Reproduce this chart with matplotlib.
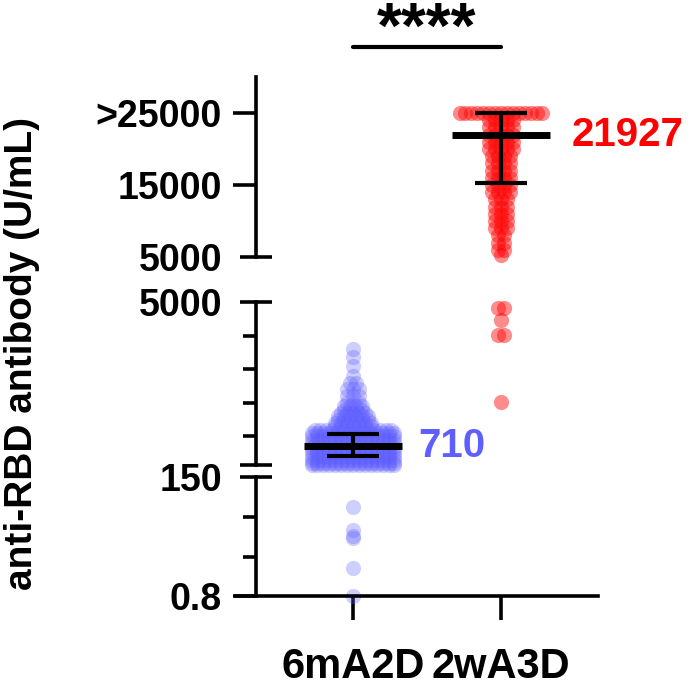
import numpy as np
import matplotlib.pyplot as plt

plt.rcParams['font.family'] = ['Liberation Sans', 'DejaVu Sans']
plt.rcParams['font.weight'] = 'bold'

# data
groups = ['6mA2D', '2wA3D']

blue_vals = [1, 36, 74, 76, 84, 112,
             150, 200, 300, 400, 500, 600, 700, 800, 900, 1000, 1100, 1200,
             1300, 1400, 1500, 1600, 1700, 1800, 1900, 2000, 2200, 2400,
             2600, 2800, 3100, 3350, 3600]
blue_counts = [1, 1, 1, 1, 1, 1,
               15, 15, 15, 15, 15, 15, 15, 15, 15, 15, 15, 14,
               7, 7, 6, 6, 5, 4, 4, 3, 3, 3,
               2, 1, 1, 1, 1]

red_vals = [2030, 4020, 4460, 4820,
            5300, 6000, 7000, 8000, 9000, 10000, 11000, 12000, 13000,
            14000, 15000, 16000, 17000, 18000, 19000, 20000, 21000, 22000,
            23000, 24000, 25000]
red_counts = [1, 2, 1, 2,
              1, 2, 2, 2, 3, 3, 3, 3, 3,
              4, 4, 4, 4, 4, 4, 5, 5, 5,
              5, 5, 15]

means = [710, 21927]
err_low = [420, 15280]
err_high = [1070, 25000]
mean_labels = ['710', '21927']
colors = ['#5F5FFF', '#FF0000']
alphas = [0.3, 0.45]

W, H = 693, 689
fig = plt.figure(figsize=(W / 100, H / 100), dpi=100)


def px_axes(y_top, y_bot):
    return fig.add_axes([236 / W, 1 - y_bot / H, 362 / W, (y_bot - y_top) / H])


ax_top = px_axes(77, 257)
ax_mid = px_axes(302, 465)
ax_low = px_axes(477, 596)
ax_top.set_ylim(5000, 30000)
ax_mid.set_ylim(150, 5000)
ax_low.set_ylim(0.8, 150)

xmin, xmax = -0.7905, 1.6554
spine_x = -0.6554
lw = 2.6

for ax in (ax_top, ax_mid, ax_low):
    ax.set_xlim(xmin, xmax)
    ax.patch.set_alpha(0)
    for s in ('top', 'right'):
        ax.spines[s].set_visible(False)
    ax.spines['left'].set_position(('data', spine_x))
    ax.spines['left'].set_linewidth(lw)
    ax.tick_params(axis='y', which='major', length=16.5, width=lw, pad=8,
                   labelsize=27)
    ax.tick_params(axis='y', which='minor', length=9.4, width=lw)
    if ax is not ax_low:
        ax.spines['bottom'].set_visible(False)
        ax.set_xticks([])


def pick_ax(v):
    if v >= 5000:
        return ax_top
    if v >= 150:
        return ax_mid
    return ax_low


# swarm points
dx = 0.04
for i, (vals, counts) in enumerate([(blue_vals, blue_counts), (red_vals, red_counts)]):
    for v, n in zip(vals, counts):
        xs = i + (np.arange(n) - (n - 1) / 2) * dx
        pick_ax(v).scatter(xs, [v] * n, s=120, color=colors[i], alpha=alphas[i],
                           linewidths=0, clip_on=False, zorder=2)

# mean and error bars
for i in range(2):
    ax = pick_ax(means[i])
    ax.hlines(means[i], i - 0.33, i + 0.33, color='k', lw=5, zorder=4, clip_on=False)
    ax.vlines(i, err_low[i], err_high[i], color='k', lw=3, zorder=4, clip_on=False)
    ax.hlines([err_low[i], err_high[i]], i - 0.175, i + 0.175, color='k', lw=3,
              zorder=4, clip_on=False)
    ax.text(i + [0.44, 0.48][i], means[i], mean_labels[i], color=colors[i],
            fontsize=29, fontweight='bold', va='center', ha='left')

# y ticks
ax_top.set_yticks([5000, 15000, 25000], ['5000', '15000', '>25000'])
ax_mid.set_yticks([5000], ['5000'])
ax_mid.set_yticks([1000, 2000, 3000, 4000], minor=True)
ax_low.set_yticks([0.8, 150], ['0.8', '150'])
ax_low.set_yticks([50, 100], minor=True)
ax_top.yaxis.get_major_ticks()[0].tick1line.set_visible(False)
ax_mid.yaxis.get_major_ticks()[0].tick1line.set_visible(False)
ax_low.yaxis.get_major_ticks()[1].tick1line.set_visible(False)


def break_mark(ax, y):
    ax.plot([spine_x - 0.105, spine_x + 0.105], [y, y], color='k', lw=lw,
            solid_capstyle='butt', clip_on=False)


break_mark(ax_top, 5000)
break_mark(ax_mid, 5000)
break_mark(ax_mid, 150)
break_mark(ax_low, 150)

# x axis
ax_low.spines['bottom'].set_linewidth(lw)
ax_low.set_xticks([0, 1], groups)
ax_low.tick_params(axis='x', length=17, width=lw, pad=20, labelsize=30)

fig.text(22 / W, 1 - 354 / H, 'anti-RBD antibody (U/mL)', rotation=90,
         ha='center', va='center', fontsize=28, fontweight='bold')

# significance bar
ax_top.plot([0, 1], [34170, 34170], color='k', lw=3, clip_on=False,
            solid_capstyle='round')
ax_top.text(0.5, 34000, '****', ha='center', va='baseline', fontsize=46,
            fontweight='bold')

fig.savefig('out.png', dpi=100)
